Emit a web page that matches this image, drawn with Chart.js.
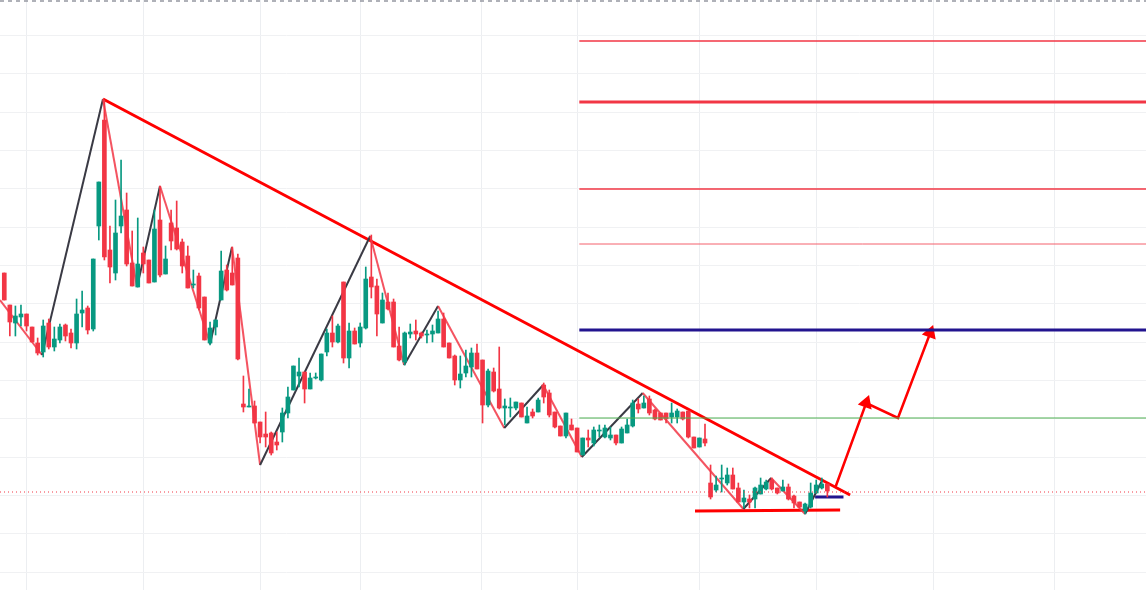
<!DOCTYPE html>
<html><head><meta charset="utf-8">
<script src="https://cdn.jsdelivr.net/npm/chart.js@4.4.1/dist/chart.umd.min.js"></script>
<style>html,body{margin:0;padding:0;background:#fff}#w{width:1146px;height:590px}</style>
</head><body><div id="w"><canvas id="c"></canvas></div>
<script>
// Price units: axis is reversed (smaller = higher on chart)
const opens =[273,305,323,317,314,327,343,352,323,347,340,325,333,343,313,308,329,226,120,250,273,226,210,263,287,253,260,282,220,274,223,228,242,256,285,276,297,343,327,300,270,273,258,404,407,406,422,434,433,442,432,413,390,376,372,389,378,380,352,333,342,282,358,331,343,328,277,286,323,302,302,346,362,334,331,333,335,334,333,319,343,356,380,373,367,353,360,405,372,389,408,408,408,403,423,412,412,385,393,412,426,436,425,428,455,438,443,431,437,438,435,443,433,426,404,408,399,410,413,413,417,417,412,411,437,447,439,483,490,479,483,475,488,502,499,499,494,489,480,488,491,487,496,502,511,507,493,488,484];
const highs =[273,305,306,305,314,327,338,320,319,327,324,324,329,299,291,306,259,182,100,226,200,160,193,231,218,247,260,210,186,246,210,201,239,246,270,273,297,322,320,251,265,247,254,376,389,401,422,412,432,432,408,387,366,358,372,373,373,354,329,316,324,282,323,328,323,267,235,279,293,293,299,327,332,324,320,332,330,325,311,313,343,355,356,350,348,344,360,369,368,347,399,398,402,403,407,409,398,383,390,412,426,413,419,428,438,430,427,425,425,427,435,427,419,400,399,396,396,409,413,413,403,409,412,411,437,438,424,465,476,465,468,468,483,490,495,487,478,480,478,488,480,484,495,502,503,483,480,478,484];
const lows  =[300,336,336,326,331,342,355,357,349,351,343,341,348,349,327,334,331,240,260,283,280,233,266,286,287,273,283,282,277,274,250,250,273,288,288,310,340,345,335,300,291,285,360,412,407,423,443,447,455,450,442,418,390,387,403,389,379,381,356,347,343,363,368,344,347,329,298,336,323,310,347,361,365,338,340,338,343,342,333,347,358,385,388,377,377,369,423,407,392,409,425,417,410,417,423,418,412,403,417,428,436,438,430,452,455,447,446,437,438,440,445,443,433,427,413,408,415,420,420,423,423,423,420,438,448,447,446,499,492,492,485,489,502,508,508,508,494,490,490,494,491,500,508,508,514,508,493,489,497];
const closes=[300,322,316,314,326,342,353,326,347,339,327,336,343,314,310,330,259,182,257,267,233,216,264,286,264,264,283,229,275,259,241,249,266,288,284,308,340,328,320,271,290,285,359,407,406,423,437,437,453,445,413,397,366,372,389,378,377,354,333,342,326,358,331,344,327,279,287,314,300,309,347,360,333,332,334,336,334,331,319,347,358,380,374,366,353,369,405,371,391,408,406,407,402,417,416,416,400,397,415,427,436,413,430,452,438,440,430,430,428,435,443,429,425,403,409,403,413,419,420,419,413,411,419,437,448,438,443,497,485,478,475,489,502,498,502,488,485,482,489,493,487,499,503,507,504,493,485,484,491];

// Time grid positions (candle index) and price grid
const timeGrid=[3.96,25.0,46.0,64.0,85.9,103.1,125.0,146.1,167.1,188.9];
const priceGrid=[...Array(15).keys()].map(k=>35.5+38.33*k);

// Drawn lines: x in candle index, y in price units
const zigX=[-0.77,6.78,17.75,23.87,28.0,37.0,40.95,46.0,65.8,71.9,78.0,89.9,96.9,103.85,114.8,132.9,137.9,144.0,147.1];
const zigY=[300,355,99,287,186,344,247,465,236,365,306,428,385,457,393,509,478,514,480];
const trendX=[17.75,152.1], trendY=[99,495];
const supportX=[124.2,150.3], supportY=[511,510];
const stopX=[145.8,150.9], stopY=[497,497];
const pathX=[149.4,154.98,160.7,166.5], pathY=[488,403,418,333];
const levelX=[103.4,205.3];
const levels=[41,102,189,244,330,418];
const currentPrice=492;

const RED='#f23645', GREEN='#089981';
const idx=opens.map((_,i)=>i);
const cols=idx.map(i=>closes[i]<=opens[i]?GREEN:RED);
const pts=(xs,ys)=>xs.map((x,i)=>({x,y:ys[i]}));
const lineDs=(data,color,width,extra)=>Object.assign({type:'line',data,borderColor:color,backgroundColor:color,borderWidth:width,pointRadius:0,fill:false,tension:0},extra||{});

const segCols=zigX.slice(1).map((_,i)=>zigY[i+1]<zigY[i]?'#3a3a44':'rgba(242,54,69,0.85)');
const levelStyle=[[RED,1.5],[RED,3],[RED,1.5],['#f4606c',1],['#22148f',3],['#4caf50',1]];

const datasets=[
  lineDs(pts([-0.77,205.3],[currentPrice,currentPrice]),RED,1,{borderDash:[1,3]}),
  lineDs(pts([-0.77,205.3],[1,1]),'#9598a1',1.5,{borderDash:[4,4]}),
  ...levels.map((v,i)=>lineDs(pts(levelX,[v,v]),levelStyle[i][0],levelStyle[i][1])),
  {type:'bar',data:idx.map(i=>({x:i,y:[highs[i],lows[i]]})),backgroundColor:cols,barThickness:1,grouped:false},
  {type:'bar',data:idx.map(i=>({x:i,y:[opens[i],closes[i]===opens[i]?opens[i]+1:closes[i]]})),backgroundColor:cols,barThickness:4,grouped:false},
  lineDs(pts(zigX,zigY),'#333',2,{segment:{borderColor:c=>segCols[c.p0DataIndex]}}),
  lineDs(pts(trendX,trendY),'#ff0000',3),
  lineDs(pts(supportX,supportY),'#ff0000',3),
  lineDs(pts(stopX,stopY),'#22148f',3),
  lineDs(pts(pathX,pathY),'#ff0000',2.5,{pointRadius:[0,6,0,6],pointStyle:'triangle',pointRotation:20,pointBackgroundColor:'#ff0000',pointBorderColor:'#ff0000'})
];

new Chart(document.getElementById('c'),{
  type:'bar',
  data:{datasets},
  options:{responsive:true,maintainAspectRatio:false,animation:false,
    layout:{padding:0,autoPadding:false},
    plugins:{legend:{display:false},tooltip:{enabled:false}},
    scales:{
      x:{type:'linear',min:-0.77,max:205.3,offset:false,border:{display:false},
        ticks:{display:false,padding:0},grid:{color:'#eceef1',drawTicks:false,tickLength:0,offset:false},
        afterFit:s=>{s.height=0;s.paddingLeft=0;s.paddingRight=0;},
        afterBuildTicks:s=>{s.ticks=timeGrid.map(v=>({value:v}));}},
      y:{type:'linear',reverse:true,min:0,max:590,border:{display:false},
        ticks:{display:false,padding:0},grid:{color:'#f0f1f3',drawTicks:false,tickLength:0,offset:false},
        afterFit:s=>{s.width=0;s.paddingTop=0;s.paddingBottom=0;},
        afterBuildTicks:s=>{s.ticks=priceGrid.map(v=>({value:v}));}}
    }
  }
});
</script></body></html>
